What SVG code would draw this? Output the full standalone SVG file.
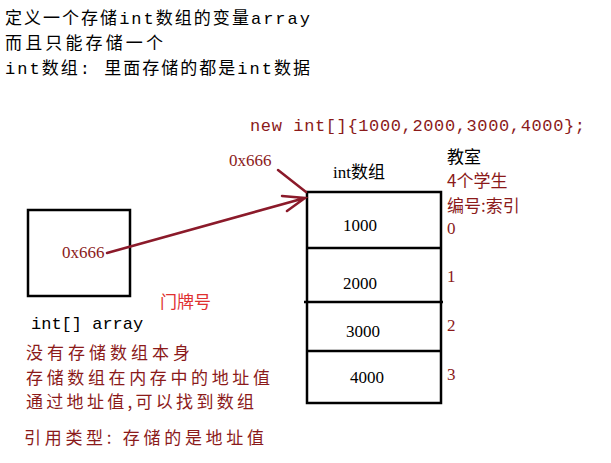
<svg xmlns="http://www.w3.org/2000/svg" width="611" height="463" viewBox="0 0 611 463">
<style>
text{font-family:"Liberation Serif","Noto Sans CJK SC",serif;font-size:17px}
.k{fill:#000}.r{fill:#8b1a1a}.m{font-family:"Liberation Mono","Noto Sans CJK SC",monospace}
.cj{font-family:"Noto Sans CJK SC",sans-serif}
.box{fill:#fff;stroke:#000;stroke-width:2.5}
.c{stroke:#8b1a2a;stroke-width:2.5;fill:none;stroke-linecap:round}
</style>
<rect width="611" height="463" fill="#fff"/>
<g id="notes">
<text class="k m" x="5" y="24" font-size="17.5" textLength="305">定义一个存储int数组的变量array</text>
<text class="k m" x="5" y="49" font-size="17.5" textLength="158">而且只能存储一个</text>
<text class="k m" x="5" y="74" font-size="17.5" textLength="305">int数组: 里面存储的都是int数据</text>
<text class="r m" x="250" y="131" font-size="16" textLength="335">new int[]{1000,2000,3000,4000};</text>
<text class="r" x="229" y="166">0x666</text>
</g>
<g id="var">
<rect class="box" x="28" y="210" width="102" height="86"/>
<text class="r" x="62" y="258">0x666</text>
<text fill="#e03030" x="160" y="308" class="cj">门牌号</text>
<text class="k m" x="31" y="329">int[] array</text>
<text class="r cj" x="26" y="359" font-size="18.5" textLength="164">没有存储数组本身</text>
<text class="r cj" x="26" y="384" font-size="18.5" textLength="244">存储数组在内存中的地址值</text>
<text class="r cj" x="26" y="408" font-size="18.5" textLength="228">通过地址值,可以找到数组</text>
<text class="r cj" x="24" y="444" font-size="17.5" textLength="240">引用类型: 存储的是地址值</text>
</g>
<g id="array">
<rect class="box" x="307" y="192" width="134" height="211"/>
<line x1="307" y1="248" x2="441" y2="248" stroke="#000" stroke-width="2.5"/>
<line x1="304" y1="302" x2="443" y2="302" stroke="#000" stroke-width="2.5"/>
<line x1="307" y1="351" x2="441" y2="351" stroke="#000" stroke-width="2.5"/>
<text class="k" x="333" y="178">int数组</text>
<text class="k" x="343" y="231">1000</text>
<text class="k" x="343" y="289">2000</text>
<text class="k" x="346" y="337">3000</text>
<text class="k" x="350" y="383">4000</text>
<text class="k cj" x="447" y="163">教室</text>
<text class="r cj" x="447" y="187">4个学生</text>
<text class="r cj" x="447" y="212">编号:索引</text>
<text class="r" x="447" y="234">0</text>
<text class="r" x="447" y="282">1</text>
<text class="r" x="447" y="331">2</text>
<text class="r" x="447" y="380">3</text>
</g>
<g id="connectors">
<path class="c" d="M107 253 L305 198 M282 196 L305 198 L287 211"/>
<path class="c" d="M278 170 L306 192"/>
</g>
</svg>
